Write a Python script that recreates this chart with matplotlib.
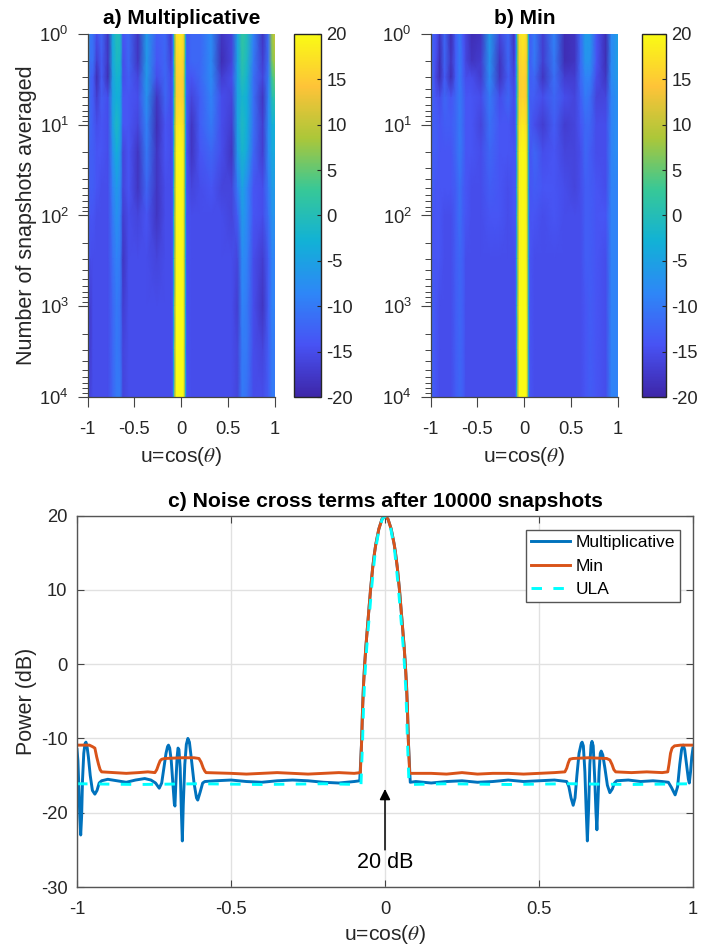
import numpy as np
import matplotlib
matplotlib.use('Agg')
import matplotlib.pyplot as plt
from matplotlib.colors import LinearSegmentedColormap
from matplotlib.ticker import LogLocator, NullFormatter

plt.rcParams['font.family'] = ['Liberation Sans', 'DejaVu Sans']
plt.rcParams['mathtext.fontset'] = 'stix'
plt.rcParams['mathtext.default'] = 'regular'
plt.rcParams['axes.unicode_minus'] = False

# Heatmap grid
snapshots = [1, 2, 3, 5, 10, 20, 50, 100, 300, 1000, 3000, 10000]
u_left = [-1, -0.97, -0.94, -0.90, -0.85, -0.78, -0.73, -0.69, -0.65, -0.62, -0.56, -0.46, -0.37, -0.26, -0.17, -0.11]
u_lobe = [-0.09, -0.078, -0.066, -0.05, -0.015, 0.02, 0.036, 0.048, 0.06]
u_right = [0.11, 0.2, 0.32, 0.43, 0.54, 0.60, 0.65, 0.70, 0.77, 0.87, 0.93, 0.97, 1]

# Main lobe, same for both maps
lobe_rows = [
    [-13, -3, 9, 17, 18.5, 17, 9, -2, -13],
    [-13, -3, 8, 15.5, 17, 15.5, 8, -3, -13],
    [-13, -3, 7, 15, 16, 15, 7, -3, -13],
    [-13, -3, 7, 15, 16, 15, 7, -3, -13],
    [-13, -3, 9, 17, 18.5, 17, 9, -2, -13],
    [-14, -3, 9, 19, 22, 19, 9, -2, -14],
    [-14, -3, 9, 19, 22, 19, 9, -2, -14],
    [-14, -3, 9, 19, 22, 19, 9, -2, -14],
    [-14, -3, 9, 19, 22, 19, 9, -2, -14],
    [-14, -3, 10, 20, 23, 20, 10, -2, -14],
    [-14, -3, 10, 20, 23, 20, 10, -2, -14],
    [-14, -3, 10, 20, 23, 20, 10, -2, -14],
]

# a) Multiplicative
a_left = [
    [5, -10, -11, -15, -12, -18, -4, 0, -1, -14, -12, -18, -6, -13, -12, -17],
    [2, -11, -11, -17, -13, -18, -4, -1, -2, -15, -12, -18, -6, -14, -12, -16],
    [0, -12, -13, -19, -13, -19, -5, -2, -3, -15, -13, -16, -6, -15, -12, -15],
    [-3, -12, -13, -17, -13, -15, -5, -3, -4, -14, -14, -15, -7, -18, -12, -15],
    [-5, -12, -13, -15, -14, -15, -5, -1, -4, -14, -14, -16, -9, -19, -14, -15],
    [-6, -13, -13, -14, -14, -15, -7, -3, -6, -16, -14, -18, -10, -18, -14, -15],
    [-7, -13, -13, -14, -15, -15, -9, -6, -8, -16, -14, -18, -12, -18, -15, -15],
    [-8, -14, -14, -15, -15, -15, -10, -7, -9, -17, -15, -16, -14, -18, -15, -15],
    [-9, -15, -15, -15, -15, -15, -11, -9, -10, -18, -15, -15, -15, -16, -15, -15],
    [-11, -17, -15, -15, -15, -15, -12, -10, -11, -17, -15, -15, -15, -15, -15, -15],
    [-11, -17, -15, -15, -15, -15, -12, -10, -11, -16, -15, -15, -15, -15, -15, -15],
    [-11, -16, -15, -15, -15, -15, -12, -10, -10, -16, -15, -15, -15, -15, -15, -15],
]
a_right = [
    [-12, -12, -8, -18, -16, -5, 2, 0, -9, -18, -11, 8, 11],
    [-12, -12, -8, -19, -16, -5, 1, -1, -10, -17, -11, 6, 9],
    [-14, -12, -8, -17, -15, -5, 0, -2, -11, -16, -10, 3, 6],
    [-16, -13, -9, -15, -16, -5, -2, -3, -11, -18, -9, 0, 2],
    [-18, -13, -10, -15, -17, -5, -1, -3, -11, -17, -8, -3, -3],
    [-18, -14, -12, -15, -18, -6, -2, -4, -12, -17, -8, -4, -4],
    [-16, -15, -14, -16, -16, -10, -5, -8, -14, -15, -10, -6, -6],
    [-15, -15, -15, -15, -16, -13, -6, -8, -14, -15, -11, -7, -7],
    [-15, -15, -15, -15, -15, -16, -8, -9, -15, -17, -13, -9, -9],
    [-15, -15, -15, -15, -15, -17, -9, -10, -15, -18, -13, -9, -9],
    [-15, -15, -15, -15, -15, -16, -10, -10, -15, -16, -13, -10, -10],
    [-15, -15, -15, -15, -15, -16, -10, -11, -15, -15, -13, -10, -10],
]

# b) Min
b_left = [
    [-8, -13, -14, -18, -12, -19, -13, -10, -14, -16, -19, -18, -6, -16, -12, -18],
    [-9, -13, -15, -19, -12, -18, -13, -10, -13, -16, -18, -17, -7, -18, -12, -17],
    [-9, -13, -16, -19, -13, -19, -13, -10, -13, -15, -15, -17, -8, -18, -13, -16],
    [-10, -13, -14, -15, -12, -14, -12, -10, -12, -14, -14, -15, -10, -15, -12, -15],
    [-10, -13, -13, -14, -13, -13, -12, -10, -12, -14, -14, -16, -11, -14, -14, -15],
    [-11, -13, -13, -14, -14, -14, -12, -10, -12, -14, -14, -15, -12, -14, -14, -14],
    [-11, -13, -14, -14, -14, -14, -13, -11, -13, -14, -15, -15, -13, -14, -15, -14],
    [-11, -14, -14, -14, -15, -15, -13, -11, -13, -14, -15, -15, -14, -14, -15, -14],
    [-11, -14, -14, -14, -15, -15, -13, -12, -13, -15, -15, -15, -15, -15, -15, -15],
    [-11, -13, -14, -15, -15, -15, -13, -12, -13, -15, -15, -15, -15, -15, -15, -15],
    [-11, -13, -14, -15, -15, -15, -13, -12, -13, -15, -15, -15, -15, -15, -15, -15],
    [-11, -13, -14, -15, -15, -15, -13, -12, -13, -15, -15, -15, -15, -15, -15, -15],
]
b_right = [
    [-10, -17, -9, -19, -18, -12, -6, -6, -14, -19, -8, -7, -5],
    [-10, -17, -10, -19, -18, -12, -7, -7, -14, -19, -8, -7, -5],
    [-12, -18, -11, -17, -17, -12, -9, -9, -15, -18, -8, -7, -6],
    [-13, -15, -12, -15, -16, -13, -10, -11, -16, -16, -9, -8, -7],
    [-15, -17, -13, -17, -16, -14, -12, -12, -15, -15, -9, -8, -8],
    [-12, -15, -14, -16, -16, -15, -12, -13, -15, -15, -9, -8, -8],
    [-13, -14, -14, -15, -16, -15, -13, -13, -14, -15, -9, -9, -9],
    [-14, -15, -14, -15, -15, -15, -13, -13, -14, -14, -9, -9, -9],
    [-15, -15, -15, -15, -15, -15, -13, -13, -14, -15, -9, -9, -9],
    [-15, -15, -15, -15, -15, -15, -14, -13, -14, -15, -9, -9, -9],
    [-15, -15, -15, -15, -15, -15, -14, -13, -14, -15, -9, -9, -9],
    [-15, -15, -15, -15, -15, -15, -14, -13, -14, -15, -9, -9, -9],
]

# c) curves: main lobe shared by Multiplicative and Min, ULA slightly narrower
main_u = [-0.076, -0.073, -0.07, -0.066, -0.062, -0.057, -0.052, -0.047, -0.04, -0.034, -0.03, -0.02, -0.01, 0,
          0.01, 0.02, 0.03, 0.034, 0.04, 0.047, 0.052, 0.057, 0.062, 0.066, 0.07, 0.073, 0.076]
main_db = [-10.5, -6.2, -3, 0, 2.4, 5, 7.5, 10, 13, 15, 16.1, 18.2, 19.5, 20,
           19.5, 18.2, 16.1, 15, 13, 10, 7.5, 5, 2.4, 0, -3, -6.2, -10.5]
ula_main_u = [-0.073, -0.07, -0.067, -0.063, -0.059, -0.054, -0.049, -0.044, -0.037, -0.032, -0.028, -0.019, -0.009, 0,
              0.009, 0.019, 0.028, 0.032, 0.037, 0.044, 0.049, 0.054, 0.059, 0.063, 0.067, 0.07, 0.073]

mult_u_l = [-1.0, -0.997, -0.994, -0.991, -0.988, -0.985, -0.982, -0.978, -0.974, -0.971, -0.968, -0.963, -0.957, -0.95,
            -0.942, -0.935, -0.928, -0.92, -0.9, -0.87, -0.84, -0.81, -0.78, -0.76, -0.745, -0.733, -0.725, -0.718,
            -0.711, -0.706, -0.703, -0.699, -0.694, -0.689, -0.684, -0.682, -0.679, -0.675, -0.672, -0.669, -0.665,
            -0.661, -0.658, -0.655, -0.65, -0.645, -0.64, -0.635, -0.628, -0.62, -0.612, -0.608, -0.6, -0.592, -0.585,
            -0.55, -0.5, -0.45, -0.4, -0.35, -0.3, -0.25, -0.2, -0.15, -0.1, -0.082]
mult_db_l = [-11.5, -13, -16.5, -20.5, -23, -20.5, -15.5, -12, -10.7, -10.5, -10.9, -12.5, -15, -17,
             -17.5, -17, -16, -15.7, -15.5, -15.7, -15.9, -15.6, -15.4, -15.6, -16, -16.7, -16, -14,
             -12, -11.1, -10.9, -11.3, -13, -16, -18.8, -19.1, -16, -12.5, -11.3, -11.5, -14,
             -20, -23.8, -19, -13.5, -10.8, -10, -10.5, -13, -16, -18, -18.3, -17.2, -16, -15.8,
             -15.7, -15.6, -15.8, -15.9, -15.7, -15.6, -15.7, -15.9, -16, -15.8, -15.7]
mult_u_r = [0.082, 0.1, 0.15, 0.2, 0.25, 0.3, 0.35, 0.4, 0.45, 0.5, 0.55, 0.59, 0.597, 0.604, 0.611, 0.617, 0.623, 0.63,
            0.637, 0.64, 0.644, 0.649, 0.653, 0.657, 0.661, 0.665, 0.669, 0.672, 0.676, 0.681, 0.685, 0.688, 0.691,
            0.695, 0.699, 0.702, 0.707, 0.714, 0.722, 0.73, 0.738, 0.745, 0.752, 0.79, 0.83, 0.87, 0.9, 0.92, 0.93,
            0.942, 0.95, 0.957, 0.963, 0.968, 0.973, 0.979, 0.985, 0.988, 0.992, 0.996, 1.0]
mult_db_r = [-15.9, -15.8, -16, -15.8, -15.7, -15.9, -15.8, -15.6, -15.8, -15.7, -15.6, -15.8, -16.5, -18, -19, -18, -15, -12,
             -10.7, -10.5, -11, -14.5, -19.5, -23.8, -19.5, -13.5, -10.9, -10.4, -11, -15.5, -20, -22.3, -19,
             -14.5, -12, -11.7, -12.2, -14, -16.3, -17.3, -16.8, -16, -15.7, -15.6, -15.8, -15.7, -15.8, -15.9, -16.6,
             -17.6, -16.5, -13.5, -11.5, -10.9, -11.5, -13.5, -15.5, -16, -14.5, -12.5, -11.3]

min_u_l = [-1, -0.96, -0.95, -0.942, -0.936, -0.93, -0.925, -0.92, -0.88, -0.84, -0.8, -0.77, -0.747, -0.741, -0.735, -0.73,
           -0.725, -0.715, -0.66, -0.62, -0.604, -0.597, -0.59, -0.585, -0.581, -0.5, -0.45, -0.4, -0.35, -0.3, -0.25,
           -0.2, -0.15, -0.1, -0.08]
min_db_l = [-10.9, -10.9, -11.1, -11.3, -12.5, -13.5, -14.2, -14.5, -14.6, -14.7, -14.6, -14.5, -14.6, -14.2, -13.5, -13,
            -12.8, -12.7, -12.6, -12.6, -12.7, -13.2, -14, -14.4, -14.6, -14.7, -14.8, -14.7, -14.6, -14.7, -14.8,
            -14.7, -14.6, -14.7, -14.6]
min_u_r = [0.08, 0.15, 0.2, 0.25, 0.3, 0.35, 0.4, 0.45, 0.5, 0.55, 0.584, 0.59, 0.595, 0.6, 0.61, 0.66, 0.72, 0.73, 0.737,
           0.743, 0.749, 0.8, 0.85, 0.9, 0.918, 0.922, 0.927, 0.932, 0.94, 0.96, 1]
min_db_r = [-14.7, -14.7, -14.8, -14.6, -14.8, -14.7, -14.7, -14.8, -14.7, -14.6, -14.5, -14, -13.3, -12.8, -12.7, -12.6, -12.7, -12.9, -13.5,
            -14.2, -14.5, -14.6, -14.5, -14.6, -14.5, -13.5, -12, -11.3, -11, -10.9, -10.9]

ula_u_l = [-1, -0.8, -0.6, -0.4, -0.2, -0.078]
ula_db_l = [-16.1, -16.2, -16.1, -16.2, -16.1, -16.2]
ula_u_r = [0.078, 0.2, 0.4, 0.6, 0.8, 1]
ula_db_r = [-16.2, -16.1, -16.2, -16.1, -16.2, -16.1]

# MATLAB parula
parula = LinearSegmentedColormap.from_list('parula', [
    (0.2422, 0.1504, 0.6603), (0.2810, 0.3228, 0.9579), (0.1786, 0.5289, 0.9682),
    (0.0689, 0.6948, 0.8394), (0.2161, 0.7843, 0.5923), (0.6720, 0.7793, 0.2227),
    (0.9970, 0.7659, 0.2199), (0.9769, 0.9839, 0.0805)])

W, H = 711, 946
dark = '#262626'
fs = 13.2
label_fs = 15.2


def rect(x0, y0, x1, y1):
    # pixels from top left -> figure fraction
    return [x0 / W, 1 - y1 / H, (x1 - x0) / W, (y1 - y0) / H]


fig = plt.figure(figsize=(W / 100, H / 100), dpi=100)


def heatmap(pos, cpos, left, right, title):
    ax = fig.add_axes(rect(*pos))
    u = u_left + u_lobe + u_right
    z = np.hstack([left, lobe_rows, right])
    m = ax.pcolormesh(u, snapshots, z, shading='gouraud', cmap=parula, vmin=-20, vmax=20, rasterized=True)
    ax.set_yscale('log')
    ax.set_xlim(-1, 1)
    ax.set_ylim(1e4, 1)
    ax.set_xticks([-1, -0.5, 0, 0.5, 1])
    ax.set_xticklabels(['-1', '-0.5', '0', '0.5', '1'])
    ax.yaxis.set_major_locator(LogLocator(base=10, numticks=6))
    ax.yaxis.set_minor_locator(LogLocator(base=10, subs=np.arange(2, 10) * 0.1, numticks=12))
    ax.yaxis.set_minor_formatter(NullFormatter())
    ax.spines['top'].set_visible(False)
    ax.spines['right'].set_visible(False)
    for s in ax.spines.values():
        s.set_color('#444444')
        s.set_linewidth(0.9)
    ax.tick_params(which='major', direction='out', length=7.5, width=0.8, color='#444444',
                   labelsize=fs, labelcolor=dark)
    ax.tick_params(which='minor', direction='out', length=4.3, width=0.7, color='#444444')
    ax.tick_params(axis='x', which='major', pad=10)
    ax.tick_params(axis='y', which='major', pad=6)
    ax.set_xlabel(r'u=cos($\mathit{\theta}$)', fontsize=label_fs, color=dark, labelpad=5)
    ax.set_title(title, fontsize=15, fontweight='bold', color='black', pad=7)

    cax = fig.add_axes(rect(*cpos))
    cb = fig.colorbar(m, cax=cax)
    cb.set_ticks(np.arange(-20, 21, 5))
    cb.ax.tick_params(direction='in', length=3, width=0.8, color=dark, labelsize=fs, labelcolor=dark, pad=4)
    cb.outline.set_edgecolor(dark)
    cb.outline.set_linewidth(1)
    return ax


ax_a = heatmap((87.5, 34, 275, 397), (294, 34, 321, 397), a_left, a_right, 'a) Multiplicative')
ax_a.set_ylabel('Number of snapshots averaged', fontsize=label_fs + 0.3, color=dark)
ax_a.yaxis.set_label_coords(-0.27, 0.5)
ax_b = heatmap((430.5, 34, 618, 397), (642, 34, 666, 397), b_left, b_right, 'b) Min')

# Noise cross terms
ax = fig.add_axes(rect(77, 515.6, 693, 887))
ax.plot(mult_u_l + main_u + mult_u_r, mult_db_l + main_db + mult_db_r, color='#0072BD', linewidth=2.1, label='Multiplicative')
ax.plot(min_u_l + main_u + min_u_r, min_db_l + main_db + min_db_r, color='#D95319', linewidth=2.1, label='Min')
ax.plot(ula_u_l + ula_main_u + ula_u_r, ula_db_l + main_db + ula_db_r, color='#00FFFF', linewidth=2.1,
        dashes=(3.6, 3.9), label='ULA')

ax.set_xlim(-1, 1)
ax.set_ylim(-30, 20)
ax.set_xticks([-1, -0.5, 0, 0.5, 1])
ax.set_xticklabels(['-1', '-0.5', '0', '0.5', '1'])
ax.set_yticks(np.arange(-30, 21, 10))
ax.grid(True, color='#e1e1e1', linewidth=1)
ax.set_axisbelow(True)
ax.tick_params(direction='in', length=5, width=0.8, color='#444444', top=True, right=True,
               labelsize=fs, labelcolor=dark)
ax.tick_params(axis='x', pad=10)
ax.tick_params(axis='y', pad=7)
for s in ax.spines.values():
    s.set_color('#555555')
    s.set_linewidth(1)
ax.set_xlabel(r'u=cos($\mathit{\theta}$)', fontsize=label_fs, color=dark, labelpad=4)
ax.set_ylabel('Power (dB)', fontsize=label_fs + 0.3, color=dark)
ax.yaxis.set_label_coords(-0.065, 0.5)
ax.set_title('c) Noise cross terms after 10000 snapshots', fontsize=15.2, fontweight='bold', color='black', pad=6.5)

ax.annotate('', xy=(0, -16.8), xytext=(0, -25),
            arrowprops=dict(arrowstyle='-|>', color='black', lw=1.1, mutation_scale=16, shrinkA=0, shrinkB=0))
ax.text(0, -26.7, '20 dB', ha='center', va='center', fontsize=15.5, color='black')

leg = ax.legend(loc='upper right', bbox_to_anchor=(0.979, 0.961), fontsize=12.5, fancybox=False, framealpha=1,
                edgecolor='#555555', handlelength=2.25, labelspacing=0.47, borderpad=0.3, borderaxespad=0,
                handletextpad=0.3)
leg.get_frame().set_linewidth(1)

fig.savefig('out.png', dpi=100)
